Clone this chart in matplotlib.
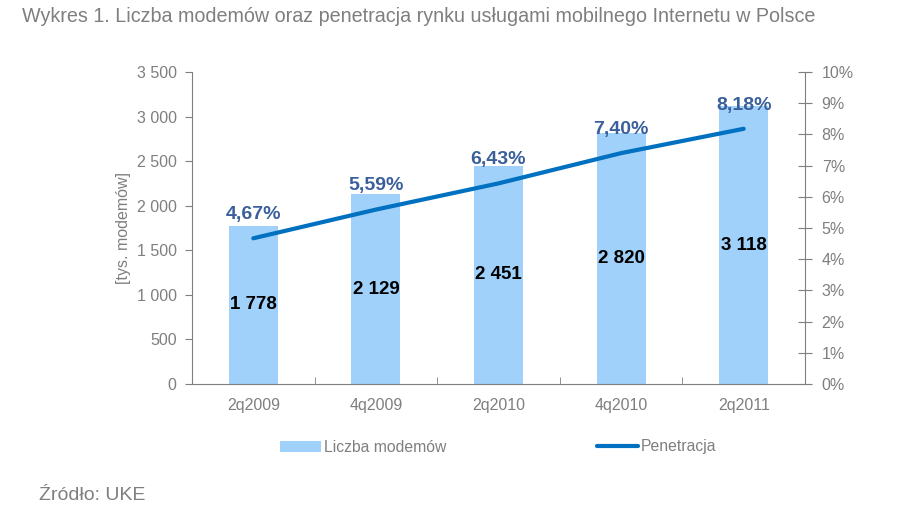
import matplotlib
matplotlib.use("Agg")
import matplotlib.pyplot as plt
import numpy as np
from matplotlib.ticker import FuncFormatter, FixedLocator

plt.rcParams['font.family'] = ['Liberation Sans', 'DejaVu Sans']

quarters = ['2q2009', '4q2009', '2q2010', '4q2010', '2q2011']
modems = [1778, 2129, 2451, 2820, 3118]          # tys. modemów
penetration = [4.67, 5.59, 6.43, 7.40, 8.18]     # %

GRAY = '#7f7f7f'
BAR = '#9fd1fa'
LINE = '#0070c0'
LABEL = '#3a5f9b'

fig = plt.figure(figsize=(9.04, 5.26), dpi=100)
ax = fig.add_axes([192/904, 1-384/526, (805-192)/904, (384-72)/526])
ax2 = ax.twinx()

x = np.arange(len(quarters))
bars = ax.bar(x, modems, width=0.4, color=BAR, label='Liczba modemów', zorder=2)
ax.set_xlim(-0.5, len(quarters)-0.5)
ax.set_ylim(0, 3500)
ax.set_yticks(np.arange(0, 3501, 500))
ax.yaxis.set_major_formatter(FuncFormatter(lambda v, p: f'{int(v):,}'.replace(',', ' ')))
ax.set_xticks(x)
ax.set_xticklabels(quarters)
ax.xaxis.set_minor_locator(FixedLocator(np.arange(-0.5, len(quarters), 1)))
ax.tick_params(axis='x', which='major', length=0, pad=10, labelsize=11.5, labelcolor=GRAY)
ax.tick_params(axis='x', which='minor', length=5, direction='in', color=GRAY)
ax.tick_params(axis='y', length=5, direction='out', color=GRAY, labelsize=11.5, labelcolor=GRAY, pad=6)
ax.set_ylabel('[tys. modemów]', color=GRAY, fontsize=11.5, labelpad=4)

for b, v in zip(bars, modems):
    ax.text(b.get_x()+b.get_width()/2, v/2, f'{v:,}'.replace(',', ' '),
            ha='center', va='center', fontsize=13.5, fontweight='bold', color='black', zorder=4)

ax2.plot(x, penetration, color=LINE, lw=3, solid_capstyle='round', label='Penetracja', zorder=3)
ax2.set_ylim(0, 10)
ax2.set_yticks(np.arange(0, 11, 1))
ax2.yaxis.set_major_formatter(FuncFormatter(lambda v, p: f'{int(v)}%'))
ax2.tick_params(axis='y', length=10, direction='inout', color=GRAY, labelsize=11.5, labelcolor=GRAY, pad=7)
for xi, p in zip(x, penetration):
    ax2.annotate(f'{p:.2f}%'.replace('.', ','), (xi, p), xytext=(0, 17), textcoords='offset points',
                 ha='center', va='center', fontsize=14, fontweight='bold', color=LABEL)

for a in (ax, ax2):
    a.spines['top'].set_visible(False)
    for s in ('left', 'right', 'bottom'):
        a.spines[s].set_color(GRAY)
ax.spines['right'].set_visible(False)
ax2.spines['left'].set_visible(False)
ax2.spines['bottom'].set_visible(False)

h1, l1 = ax.get_legend_handles_labels()
h2, l2 = ax2.get_legend_handles_labels()
leg = fig.legend(h1+h2, l1+l2, loc='center', bbox_to_anchor=(498.5/904, 1-447/526), ncol=2,
                 frameon=False, fontsize=11.3, handlelength=2.6, handletextpad=0.2, columnspacing=9.6,
                 handleheight=0.7)
for t in leg.get_texts():
    t.set_color(GRAY)

fig.text(22/904, 1-16/526, 'Wykres 1. Liczba modemów oraz penetracja rynku usługami mobilnego Internetu w Polsce',
         ha='left', va='center', fontsize=14.2, color=GRAY)
fig.text(39/904, 1-495/526, 'Źródło: UKE', ha='left', va='center', fontsize=14, color=GRAY)

fig.savefig('out.png', dpi=100)
